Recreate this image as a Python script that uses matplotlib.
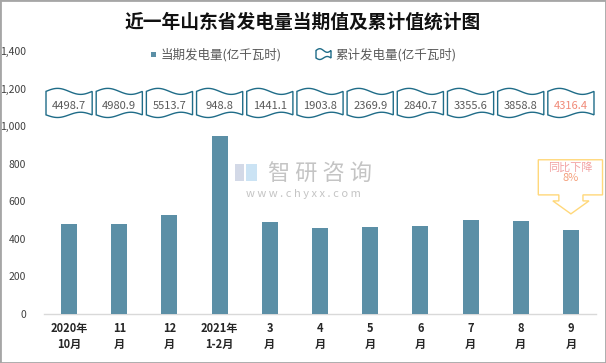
import numpy as np
import matplotlib
matplotlib.use("Agg")
import matplotlib.pyplot as plt
from matplotlib.path import Path
from matplotlib.patches import PathPatch, Rectangle, Polygon

plt.rcParams['font.family'] = ['Noto Sans CJK SC', 'DejaVu Sans']

# data
months = ["2020年\n10月", "11\n月", "12\n月", "2021年\n1-2月", "3\n月", "4\n月",
          "5\n月", "6\n月", "7\n月", "8\n月", "9\n月"]
monthly = [478, 478, 527, 948.8, 489, 458, 462, 467, 499, 494, 447]
cumulative = [4498.7, 4980.9, 5513.7, 948.8, 1441.1, 1903.8, 2369.9, 2840.7,
              3355.6, 3858.8, 4316.4]
yticks = [0, 200, 400, 600, 800, 1000, 1200, 1400]

W, H = 606, 363
bar_color = '#5B8FA6'
wave_color = '#1F6C88'


def px(x, y):
    # figure pixel -> figure fraction
    return x / W, 1 - y / H


def wave(x0, x1, ytop, ybot, atop, abot, n=40):
    t = np.linspace(0, 1, n)
    xs = x0 + (x1 - x0) * t
    top = ytop + atop * np.sin(2 * np.pi * t)
    bot = ybot - abot * np.sin(2 * np.pi * t)
    verts = list(zip(xs, top)) + list(zip(xs[::-1], bot[::-1])) + [(x0, top[0])]
    codes = [Path.MOVETO] + [Path.LINETO] * (len(verts) - 2) + [Path.CLOSEPOLY]
    return Path(verts, codes)


fig = plt.figure(figsize=(W / 100, H / 100), dpi=100)
ax = fig.add_axes([44 / W, (H - 314) / H, (596 - 44) / W, (314 - 51) / H])

x = np.arange(len(months))
ax.bar(x, monthly, width=0.32, color=bar_color, zorder=3)

ax.set_xlim(-0.5, len(months) - 0.5)
ax.set_ylim(0, 1400)
ax.set_yticks(yticks)
ax.set_yticklabels([f"{v:,}" for v in yticks], fontsize=7.5, color='#404040')
ax.set_xticks(x)
ax.set_xticklabels(months, fontsize=8, fontweight='bold', color='#262626',
                   linespacing=1.3)
ax.tick_params(length=0)
ax.tick_params(axis='y', pad=13)
ax.tick_params(axis='x', pad=6)
for s in ['top', 'right', 'left']:
    ax.spines[s].set_visible(False)
ax.spines['bottom'].set_color('#D9D9D9')
ax.spines['bottom'].set_linewidth(1)

# cumulative value flags
for i, v in enumerate(cumulative):
    p = wave(i - 0.46, i + 0.46, 1185, 1060, 16, 14)
    ax.add_patch(PathPatch(p, facecolor='white', edgecolor=wave_color, lw=1,
                           clip_on=False, zorder=4))
    c = '#F08A78' if i == len(cumulative) - 1 else '#595959'
    ax.text(i, 1106, f"{v:.1f}", ha='center', va='center', fontsize=8,
            color=c, zorder=5)

# callout over the last bar
xi = len(months) - 1
call = [(xi - 0.65, 821), (xi + 0.63, 821), (xi + 0.63, 634), (xi + 0.24, 634),
        (xi + 0.24, 602), (xi + 0.36, 602), (xi, 533), (xi - 0.36, 602),
        (xi - 0.24, 602), (xi - 0.24, 634), (xi - 0.65, 634)]
ax.add_patch(Polygon(call, closed=True, facecolor='white', edgecolor='#FFD87A',
                     lw=1, clip_on=False, zorder=4))
ax.text(xi - 0.01, 782, "同比下降", ha='center', va='center', fontsize=8,
        color='#F2A3A3', zorder=5)
ax.text(xi - 0.01, 725, "8%", ha='center', va='center', fontsize=8,
        color='#F4A07C', zorder=5)

# title
fig.text(*px(303, 22), "近一年山东省发电量当期值及累计值统计图", ha='center',
         va='center', fontsize=13.5, fontweight='bold', color='#111111')

# legend
fig.patches.append(Rectangle(px(151, 57), 5 / W, 5 / H, transform=fig.transFigure,
                             facecolor=bar_color, edgecolor='none'))
fig.text(*px(161, 54.5), "当期发电量(亿千瓦时)", ha='left', va='center',
         fontsize=9, color='#595959')
lw = wave(316 / W, 331 / W, 1 - 50.5 / H, 1 - 58 / H, 1.8 / H, 1.5 / H)
fig.patches.append(PathPatch(lw, transform=fig.transFigure, facecolor='white',
                             edgecolor=wave_color, lw=1))
fig.text(*px(335, 54.5), "累计发电量(亿千瓦时)", ha='left', va='center',
         fontsize=9, color='#595959')

# watermark
fig.patches.append(Rectangle(px(235, 181), 9 / W, 17 / H, transform=fig.transFigure,
                             facecolor='#C9D0E2', edgecolor='none', alpha=0.8))
fig.patches.append(Rectangle(px(246, 181), 11 / W, 17 / H, transform=fig.transFigure,
                             facecolor='#BFDDF2', edgecolor='none', alpha=0.8))
fig.text(*px(320, 174), "智 研 咨 询", ha='center', va='center', fontsize=16,
         color='#C4C4C4', zorder=10)
fig.text(*px(303, 194), "w w w . c h y x x . c o m", ha='center', va='center',
         fontsize=8, color='#C4C4C4', zorder=10)

# outer border
fig.patches.append(Rectangle((0, 0), 1, 1, transform=fig.transFigure, fill=False,
                             edgecolor='#A6A6A6', lw=2))

fig.savefig("out.png", dpi=100)
